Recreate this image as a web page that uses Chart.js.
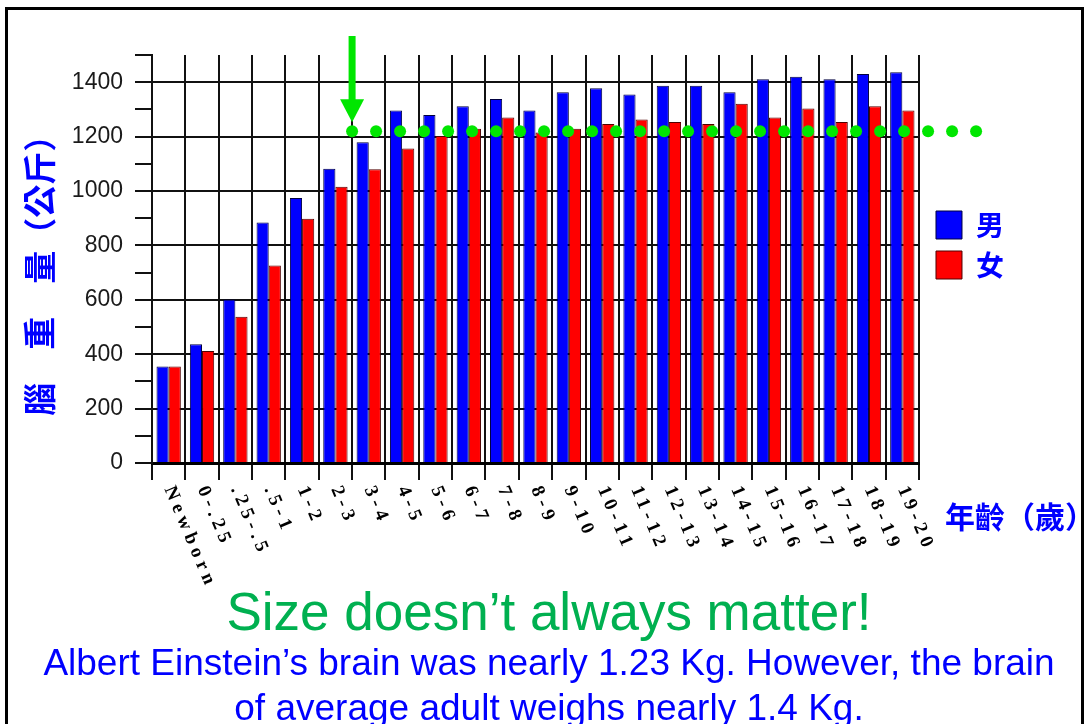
<!DOCTYPE html>
<html>
<head>
<meta charset="utf-8">
<title>腦重量</title>
<script src="https://cdn.jsdelivr.net/npm/chart.js@4.4.1/dist/chart.umd.min.js"></script>
<style>
    html, body { margin: 0; padding: 0; background: #fff; width: 1084px; height: 724px; overflow: hidden; }
    #frame { position: absolute; left: 5px; top: 7px; width: 1079px; height: 800px; border: 3px solid #000; box-sizing: border-box; }
    #wrap { position: absolute; left: 0; top: 0; width: 1084px; height: 600px; }
    .cap { position: absolute; left: 0; width: 1098px; text-align: center; white-space: nowrap; line-height: 1;
           font-family: "Liberation Sans", Arial, sans-serif; }
    #xTitle { position: absolute; left: 945px; top: 493px; white-space: nowrap; line-height: 1; color: #0000ff;
              font: bold 30px "Noto Sans CJK TC", sans-serif; }
</style>
</head>
<body>
<div id="frame"></div>
<div id="wrap"><canvas id="brainChart" width="1084" height="600"></canvas></div>
<div id="xTitle">年齡（歲）</div>
<div class="cap" style="top:585px; font-size:53px; color:#00b050;">Size doesn’t always matter!</div>
<div class="cap" style="top:644px; font-size:37px; color:#0000ff;">Albert Einstein’s brain was nearly 1.23 Kg. However, the brain</div>
<div class="cap" style="top:689px; font-size:37px; color:#0000ff;">of average adult weighs nearly 1.4 Kg.</div>

<script>
// Brain weight by age group (grams)

const ageGroups = ['Newborn', '0-.25', '.25-.5', '.5-1', '1-2', '2-3', '3-4', '4-5', '5-6', '6-7', '7-8', '8-9',
    '9-10', '10-11', '11-12', '12-13', '13-14', '14-15', '15-16', '16-17', '17-18', '18-19', '19-20'];
const maleWeights = [355, 437, 601, 884, 974, 1082, 1179, 1296, 1279, 1312, 1338, 1296,
    1363, 1378, 1355, 1387, 1387, 1363, 1411, 1420, 1411, 1430, 1437];
const femaleWeights = [355, 412, 538, 726, 898, 1016, 1080, 1156, 1202, 1229, 1270, 1215,
    1229, 1246, 1263, 1254, 1246, 1321, 1270, 1303, 1254, 1312, 1296];
const seriesNames = ['男', '女'];
const einsteinBrain = 1220;      // línea punteada verde
const einsteinFromGroup = 6;     // empieza en '3-4'
const yTitle = '腦　重　量（公斤）　';

Chart.defaults.font.family = '"Liberation Sans", Arial, sans-serif';
Chart.defaults.animation = false;

// etiquetas del eje X giradas en sentido horario
const ageLabelsPlugin = {
    id: 'ageLabels',
    afterDraw(chart) {
        const xs = chart.scales.x;
        const ctx = chart.ctx;
        ctx.save();
        ctx.font = 'bold 19px "Liberation Serif", serif';
        ctx.fillStyle = '#000';
        ctx.textAlign = 'left';
        ctx.textBaseline = 'middle';
        if ('letterSpacing' in ctx) ctx.letterSpacing = '5px';
        ageGroups.forEach((label, i) => {
            ctx.save();
            ctx.translate(xs.getPixelForValue(i), xs.top + 24);
            ctx.rotate(67 * Math.PI / 180);
            ctx.fillText(label, 0, 0);
            ctx.restore();
        });
        ctx.restore();
    }
};

// flecha + puntos verdes (cerebro de Einstein)
const einsteinPlugin = {
    id: 'einsteinMark',
    afterDraw(chart) {
        const xs = chart.scales.x, ys = chart.scales.y;
        const ctx = chart.ctx;
        const y = ys.getPixelForValue(einsteinBrain);
        const x0 = (xs.getPixelForValue(einsteinFromGroup - 1) + xs.getPixelForValue(einsteinFromGroup)) / 2;
        const x1 = chart.chartArea.right + 60;
        ctx.save();
        ctx.fillStyle = '#00e600';
        for (let x = x0; x <= x1; x += 24) {
            ctx.beginPath();
            ctx.arc(x, y, 6, 0, Math.PI * 2);
            ctx.fill();
        }
        const tip = y - 9;
        const top = chart.chartArea.top - 19;
        ctx.fillRect(x0 - 3.5, top, 7, tip - 22 - top);
        ctx.beginPath();
        ctx.moveTo(x0 - 12, tip - 23);
        ctx.lineTo(x0 + 12, tip - 23);
        ctx.lineTo(x0, tip);
        ctx.closePath();
        ctx.fill();
        ctx.restore();
    }
};

// la leyenda va un poco más arriba y a la derecha que el centrado por defecto
const legendNudge = {
    id: 'legendNudge',
    afterLayout(chart) {
        const lg = chart.legend;
        if (!lg) return;
        lg.top -= 14; lg.bottom -= 14;
        lg.left += 5; lg.right += 5;
    }
};

new Chart(document.getElementById('brainChart').getContext('2d'), {
    type: 'bar',
    data: {
        labels: ageGroups,
        datasets: [
            {
                label: seriesNames[0],
                data: maleWeights,
                backgroundColor: '#0000ff',
                borderColor: '#000040',
                borderWidth: 1,
                borderSkipped: 'bottom'
            },
            {
                label: seriesNames[1],
                data: femaleWeights,
                backgroundColor: '#ff0000',
                borderColor: '#500000',
                borderWidth: 1,
                borderSkipped: 'bottom'
            }
        ]
    },
    options: {
        responsive: false,
        maintainAspectRatio: false,
        layout: { padding: { left: 20, top: 55, right: 75, bottom: 0 } },
        datasets: { bar: { categoryPercentage: 0.73, barPercentage: 1.0 } },
        plugins: {
            tooltip: { enabled: false },
            legend: {
                position: 'right',
                align: 'center',
                fullSize: false,
                labels: {
                    boxWidth: 26,
                    boxHeight: 28,
                    padding: 12,
                    color: '#0000ff',
                    font: { family: '"Noto Sans CJK TC", sans-serif', size: 28, weight: 'bold' }
                }
            }
        },
        scales: {
            x: {
                grid: { offset: true, color: '#111', lineWidth: 2, tickLength: 17, drawTicks: true },
                border: { color: '#000', width: 3 },
                ticks: { display: false },
                afterFit: (s) => { s.height = 137; }
            },
            y: {
                min: 0,
                max: 1500,
                ticks: {
                    stepSize: 100,
                    autoSkip: false,
                    padding: 12,
                    color: '#1a1a1a',
                    font: { size: 23 },
                    callback: (v) => (v % 200 === 0 && v < 1500) ? v : ''
                },
                grid: {
                    lineWidth: 2,
                    tickLength: 17,
                    tickColor: '#111',
                    color: (c) => (c.tick && c.tick.value % 200 === 0 && c.tick.value < 1500) ? '#111' : 'rgba(0,0,0,0)'
                },
                border: { color: '#111', width: 2 },
                title: {
                    display: true,
                    text: yTitle,
                    color: '#0000ff',
                    padding: { top: 0, bottom: 0 },
                    font: { family: '"Noto Sans CJK TC", sans-serif', size: 33, weight: 'bold' }
                },
                afterFit: (s) => { s.width = 132; }
            }
        }
    },
    plugins: [ageLabelsPlugin, einsteinPlugin, legendNudge]
});
</script>
</body>
</html>
